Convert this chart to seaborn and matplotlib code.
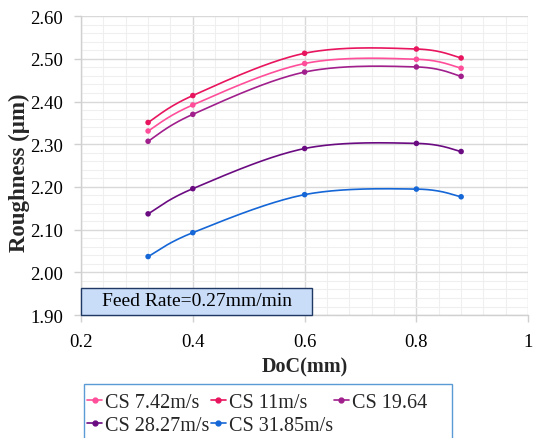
import numpy as np
import pandas as pd
import matplotlib
matplotlib.use("Agg")
import matplotlib.pyplot as plt
from matplotlib.lines import Line2D
from matplotlib.patches import Rectangle
from matplotlib.ticker import MultipleLocator, FuncFormatter
import seaborn as sns

# Depth of cut (mm) and surface roughness (µm) for each cutting speed
doc = [0.32, 0.4, 0.6, 0.8, 0.88]
cs_7_42 = [2.331, 2.392, 2.489, 2.499, 2.478]
cs_11 = [2.351, 2.414, 2.513, 2.523, 2.502]
cs_19_64 = [2.307, 2.370, 2.469, 2.481, 2.459]
cs_28_27 = [2.137, 2.196, 2.290, 2.302, 2.283]
cs_31_85 = [2.037, 2.093, 2.182, 2.195, 2.177]

series_names = ["CS 7.42m/s", "CS 11m/s", "CS 19.64", "CS 28.27m/s", "CS 31.85m/s"]
series_values = [cs_7_42, cs_11, cs_19_64, cs_28_27, cs_31_85]
colors = ["#ff4f9a", "#e8145e", "#a01f8c", "#6b0b82", "#1566d6"]

y_ticks = [1.90, 2.00, 2.10, 2.20, 2.30, 2.40, 2.50, 2.60]
x_ticks = [0.2, 0.4, 0.6, 0.8, 1.0]


def smooth_curve(xs, ys, n=40):
    """Parametric Catmull-Rom curve through the points (spreadsheet-style smoothing)."""
    p = np.column_stack([xs, ys]).astype(float)
    p = np.vstack([p[0], p, p[-1]])
    out = []
    t = np.linspace(0, 1, n)[:, None]
    for i in range(1, len(p) - 2):
        p0, p1, p2, p3 = p[i - 1], p[i], p[i + 1], p[i + 2]
        seg = 0.5 * ((2 * p1) + (-p0 + p2) * t + (2 * p0 - 5 * p1 + 4 * p2 - p3) * t ** 2
                     + (-p0 + 3 * p1 - 3 * p2 + p3) * t ** 3)
        out.append(seg if i == 1 else seg[1:])
    out = np.vstack(out)
    return out[:, 0], out[:, 1]


sns.set_theme(style="white")
plt.rcParams["font.family"] = ["Liberation Serif", "DejaVu Serif"]

fig = plt.figure(figsize=(5.33, 4.39), dpi=100)
ax = fig.add_axes([0.152, 0.280, 0.839, 0.681])

points = pd.DataFrame({
    "DoC": np.tile(doc, len(series_names)),
    "Roughness": np.concatenate(series_values),
    "Series": np.repeat(series_names, len(doc)),
})

curves = []
for name, vals in zip(series_names, series_values):
    cx, cy = smooth_curve(doc, vals)
    curves.append(pd.DataFrame({"DoC": cx, "Roughness": cy, "Series": name}))
curves = pd.concat(curves, ignore_index=True)

palette = dict(zip(series_names, colors))
for name in series_names:
    sub = curves[curves["Series"] == name]
    sns.lineplot(data=sub, x="DoC", y="Roughness", color=palette[name], lw=1.2,
                 sort=False, estimator=None, ax=ax, legend=False, zorder=3)
sns.scatterplot(data=points, x="DoC", y="Roughness", hue="Series", palette=palette,
                s=16, edgecolor="none", ax=ax, legend=False, zorder=4)

ax.set_xlim(0.2, 1.0)
ax.set_ylim(1.90, 2.60)
ax.set_yticks(y_ticks)
ax.set_xticks(x_ticks)
ax.yaxis.set_major_formatter(FuncFormatter(lambda v, _: f"{v:.2f}"))
ax.xaxis.set_major_formatter(FuncFormatter(lambda v, _: f"{v:g}"))
ax.xaxis.set_minor_locator(MultipleLocator(0.04))
ax.yaxis.set_minor_locator(MultipleLocator(0.02))
ax.grid(which="major", color="#d9d9d9", lw=1.0, zorder=0)
ax.grid(which="minor", color="#efefef", lw=0.8, zorder=0)
ax.set_axisbelow(True)

for side in ["top", "right"]:
    ax.spines[side].set_visible(False)
for side in ["left", "bottom"]:
    ax.spines[side].set_color("#d0d0d0")
    ax.spines[side].set_linewidth(1.0)

ax.tick_params(axis="both", which="major", length=5, width=1.0, color="#d0d0d0",
               labelsize=13.5, labelcolor="black", pad=8, direction="out",
               left=True, bottom=True)
ax.tick_params(which="minor", length=0)

ax.set_xlabel("DoC(mm)", fontsize=14.5, fontweight="bold")
ax.set_ylabel("Roughness (µm)", fontsize=16.5, fontweight="bold")
ax.xaxis.set_label_coords(0.5, -0.138)
ax.yaxis.set_label_coords(-0.114, 0.48)

# Annotation box with the feed rate
ax.add_patch(Rectangle((0.2, 1.90), 0.413, 0.064, facecolor="#c9ddf8",
                       edgecolor="#1f3864", lw=1.0, zorder=5, clip_on=False))
ax.text(0.408, 1.933, "Feed Rate=0.27mm/min", ha="center", va="center",
        fontsize=14, color="black", zorder=6)

# Legend with its own frame below the plot
handles = [Line2D([0], [0], color=c, lw=1.2, marker="o", markersize=3.5, label=n)
           for n, c in zip(series_names, colors)]
order = [0, 3, 1, 4, 2]
fig.legend([handles[i] for i in order], [series_names[i] for i in order],
           loc="upper left", bbox_to_anchor=(0.1595, 0.108), ncol=3,
           fontsize=14.5, frameon=False, handlelength=0.75,
           handletextpad=0.15, columnspacing=0.05, borderpad=0.1,
           labelspacing=0.22, borderaxespad=0)
fig.patches.append(Rectangle((0.1576, -0.05), 0.6904, 0.173, transform=fig.transFigure,
                             facecolor="none", edgecolor="#5b9bd5", lw=1.0))

fig.savefig("out.png", dpi=100)
